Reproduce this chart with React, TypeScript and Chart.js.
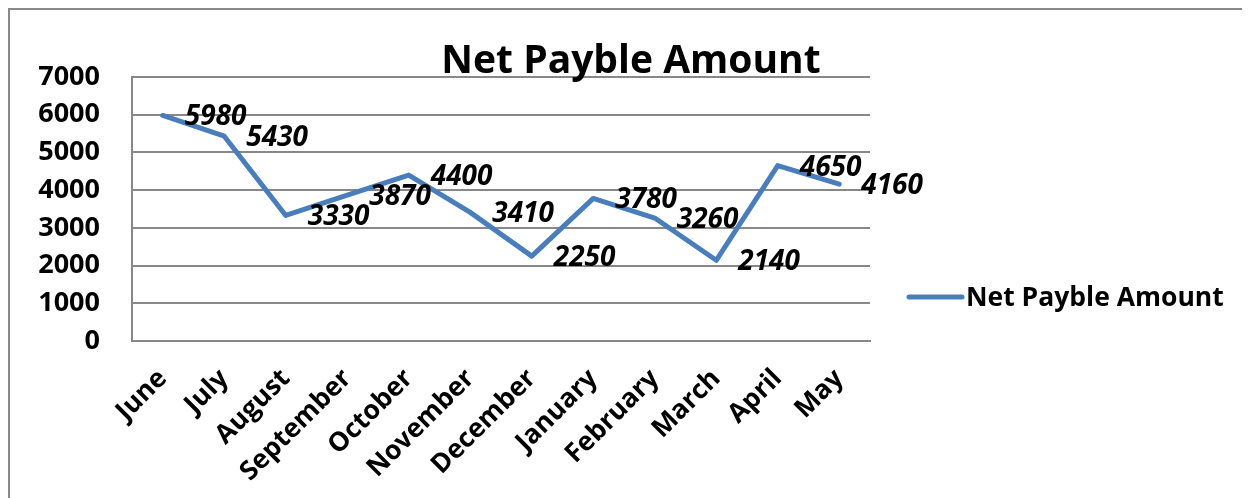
import React, { useEffect, useRef } from "react";
import { Chart, registerables } from "chart.js";

Chart.register(...registerables);

const categories = ["June", "July", "August", "September", "October", "November", "December", "January", "February", "March", "April", "May"];
const netPayble = [5980, 5430, 3330, 3870, 4400, 3410, 2250, 3780, 3260, 2140, 4650, 4160];
const yTicks = [0, 1000, 2000, 3000, 4000, 5000, 6000, 7000];
const seriesName = "Net Payble Amount";
const titleText = "Net Payble Amount";

const FONT = "'Open Sans', 'DejaVu Sans', sans-serif";
const LINE_COLOR = "#4a7ebb";

const decorPlugin = {
  id: "decor",
  afterDatasetsDraw(chart: any) {
    const ctx = chart.ctx;
    const meta = chart.getDatasetMeta(0);
    ctx.save();
    ctx.font = `italic bold 28px ${FONT}`;
    ctx.fillStyle = "#000";
    ctx.textAlign = "left";
    ctx.textBaseline = "middle";
    meta.data.forEach((pt: any, i: number) => {
      ctx.fillText(String(netPayble[i]), pt.x + 22, pt.y + 2);
    });
    ctx.restore();
  },
  afterDraw(chart: any) {
    const ctx = chart.ctx;
    const { width } = chart;
    ctx.save();
    ctx.strokeStyle = "#888888";
    ctx.lineWidth = 2;
    ctx.beginPath();
    ctx.moveTo(1, chart.height);
    ctx.lineTo(1, 1);
    ctx.lineTo(width, 1);
    ctx.stroke();
    ctx.font = `bold 39px ${FONT}`;
    ctx.fillStyle = "#000";
    ctx.textAlign = "center";
    ctx.textBaseline = "alphabetic";
    ctx.fillText(titleText, 623, 65);
    const ly = 289;
    ctx.strokeStyle = LINE_COLOR;
    ctx.lineWidth = 5;
    ctx.lineCap = "round";
    ctx.beginPath();
    ctx.moveTo(901, ly);
    ctx.lineTo(954, ly);
    ctx.stroke();
    ctx.font = `bold 26.5px ${FONT}`;
    ctx.textAlign = "left";
    ctx.textBaseline = "middle";
    ctx.fillText(seriesName, 958, ly + 1);
    ctx.restore();
  },
};

export default function App() {
  const ref = useRef<HTMLCanvasElement>(null);
  useEffect(() => {
    if (!ref.current) return;
    const chart = new Chart(ref.current, {
      type: "line",
      data: {
        labels: categories,
        datasets: [
          {
            label: seriesName,
            data: netPayble,
            borderColor: LINE_COLOR,
            backgroundColor: LINE_COLOR,
            borderWidth: 5,
            pointRadius: 0,
            tension: 0,
            borderJoinStyle: "round",
            borderCapStyle: "round",
          },
        ],
      },
      options: {
        animation: false,
        responsive: false,
        devicePixelRatio: 1,
        layout: { padding: { top: 69, left: 0, right: 380, bottom: 0 } },
        plugins: {
          legend: { display: false },
          title: { display: false },
          tooltip: { enabled: false },
        },
        scales: {
          x: {
            offset: true,
            grid: { display: false, drawTicks: false },
            border: { display: true, color: "#888888", width: 2 },
            afterFit(axis: any) {
              axis.height = 157;
            },
            ticks: {
              font: { family: FONT, weight: "bold", size: 26.5 },
              color: "#000",
              minRotation: 45,
              maxRotation: 45,
              padding: 22,
            },
          },
          y: {
            min: 0,
            max: 7000,
            afterBuildTicks(axis: any) {
              axis.ticks = yTicks.map((v) => ({ value: v }));
            },
            afterFit(axis: any) {
              axis.width = 124;
            },
            grid: { color: "#888888", lineWidth: 2, drawTicks: false },
            border: { display: true, color: "#888888", width: 2 },
            ticks: {
              font: { family: FONT, weight: "bold", size: 27 },
              color: "#000",
              padding: 32,
              callback: (v: any) => String(v),
            },
          },
        },
      },
      plugins: [decorPlugin],
    } as any);
    return () => chart.destroy();
  }, []);
  return (
    <div style={{ width: 1242, height: 490 }}>
      <canvas ref={ref} width={1242} height={490} style={{ display: "block" }} />
    </div>
  );
}
